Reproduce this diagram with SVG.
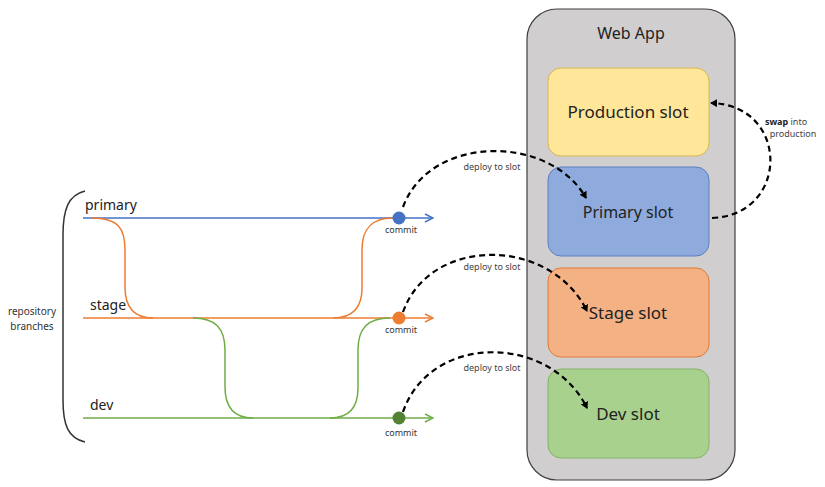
<svg xmlns="http://www.w3.org/2000/svg" width="825" height="487" viewBox="0 0 825 487">
<style>
  text { font-family: "Noto Sans", "Open Sans", sans-serif; fill: #222; }
  .slotlbl { font-size: 17px; text-anchor: middle; }
  .branch { font-size: 14px; }
  .small { font-size: 9px; fill: #444; }
  .commit { font-size: 9px; fill: #333; text-anchor: middle; }
  .dash { fill: none; stroke: #000; stroke-width: 2.2; stroke-dasharray: 6 4; }
  .blue { stroke: #4472C4; fill: none; stroke-width: 1.5; }
  .orange { stroke: #ED7D31; fill: none; stroke-width: 1.5; }
  .green { stroke: #70AD47; fill: none; stroke-width: 1.5; }
</style>
<defs>
  <marker id="ah" markerWidth="8" markerHeight="8" refX="6" refY="4" orient="auto" markerUnits="userSpaceOnUse">
    <path d="M0,0 L7,4 L0,8 Z" fill="#000"/>
  </marker>
  <marker id="ab" markerWidth="10" markerHeight="10" refX="9" refY="5" orient="auto" markerUnits="userSpaceOnUse">
    <path d="M1,1 L9,5 L1,9" fill="none" stroke="#4472C4" stroke-width="1.5"/>
  </marker>
  <marker id="ao" markerWidth="10" markerHeight="10" refX="9" refY="5" orient="auto" markerUnits="userSpaceOnUse">
    <path d="M1,1 L9,5 L1,9" fill="none" stroke="#ED7D31" stroke-width="1.5"/>
  </marker>
  <marker id="ag" markerWidth="10" markerHeight="10" refX="9" refY="5" orient="auto" markerUnits="userSpaceOnUse">
    <path d="M1,1 L9,5 L1,9" fill="none" stroke="#70AD47" stroke-width="1.5"/>
  </marker>
</defs>
<rect width="825" height="487" fill="#fff"/>

<g id="webapp">
  <rect x="527" y="9" width="208" height="471" rx="30" fill="#D0CECE" stroke="#404040" stroke-width="1.2"/>
  <text x="631" y="39" class="slotlbl" style="font-size:16px">Web App</text>
</g>
<g id="production-slot">
  <rect x="548" y="68" width="161" height="88" rx="13" fill="#FFE699" stroke="#D6B656" stroke-width="1"/>
  <text x="628" y="118" class="slotlbl">Production slot</text>
</g>
<g id="primary-slot">
  <rect x="548" y="167" width="161" height="89" rx="13" fill="#8FAADC" stroke="#5B7FC0" stroke-width="1"/>
  <text x="628" y="218" class="slotlbl" style="font-size:16px">Primary slot</text>
</g>
<g id="stage-slot">
  <rect x="548" y="268" width="161" height="89" rx="13" fill="#F4B183" stroke="#E07B39" stroke-width="1"/>
  <text x="628" y="319" class="slotlbl">Stage slot</text>
</g>
<g id="dev-slot">
  <rect x="548" y="369" width="161" height="89" rx="13" fill="#A9D18E" stroke="#82B366" stroke-width="1"/>
  <text x="628" y="420" class="slotlbl">Dev slot</text>
</g>

<g id="branches">
  <path d="M85,191 C68,195 63,210 63,235 L63,400 C63,425 68,438 85,442" fill="none" stroke="#333" stroke-width="1.5"/>
  <text x="32" y="315" class="small" style="text-anchor:middle;font-size:10px;fill:#333">repository</text>
  <text x="32" y="330" class="small" style="text-anchor:middle;font-size:10px;fill:#333">branches</text>

  <text x="85" y="210" class="branch">primary</text>
  <text x="90" y="310" class="branch">stage</text>
  <text x="90" y="410" class="branch">dev</text>

  <line x1="83" y1="218" x2="433" y2="218" class="blue" marker-end="url(#ab)"/>
  <line x1="83" y1="318" x2="433" y2="318" class="orange" marker-end="url(#ao)"/>
  <line x1="83" y1="418" x2="433" y2="418" class="green" marker-end="url(#ag)"/>

  <path d="M92,218 C118,218 125,228 125,250 L125,287 C125,308 135,318 153,318" class="orange"/>
  <path d="M333,318 C352,318 362,308 362,288 L362,250 C362,228 372,218 393,218" class="orange"/>
  <path d="M193,318 C215,318 225,328 225,350 L225,387 C225,408 235,418 253,418" class="green"/>
  <path d="M330,418 C348,418 358,408 358,388 L358,350 C358,328 368,318 390,318" class="green"/>

  <circle cx="399" cy="218" r="6.5" fill="#4472C4"/>
  <circle cx="399" cy="318" r="6.5" fill="#ED7D31"/>
  <circle cx="399" cy="418" r="6.5" fill="#548235"/>
  <text x="401" y="233" class="commit">commit</text>
  <text x="401" y="333" class="commit">commit</text>
  <text x="401" y="436" class="commit">commit</text>
</g>

<g id="connectors">
  <path d="M403,207 C430,134 550,134 586,198" class="dash" marker-end="url(#ah)"/>
  <path d="M403,312 C430,236 550,236 587,311" class="dash" marker-end="url(#ah)"/>
  <path d="M403,412 C430,333 550,333 587,408" class="dash" marker-end="url(#ah)"/>
  <path d="M712,218 C790,215 790,105 711,103" class="dash" marker-end="url(#ah)"/>
  <text x="492" y="170" class="small" text-anchor="middle">deploy to slot</text>
  <text x="492" y="270" class="small" text-anchor="middle">deploy to slot</text>
  <text x="492" y="371" class="small" text-anchor="middle">deploy to slot</text>
  <text x="786" y="125" class="small" text-anchor="middle"><tspan font-weight="bold" fill="#222">swap</tspan> into</text>
  <text x="793" y="137" class="small" text-anchor="middle">production</text>
</g>
</svg>
